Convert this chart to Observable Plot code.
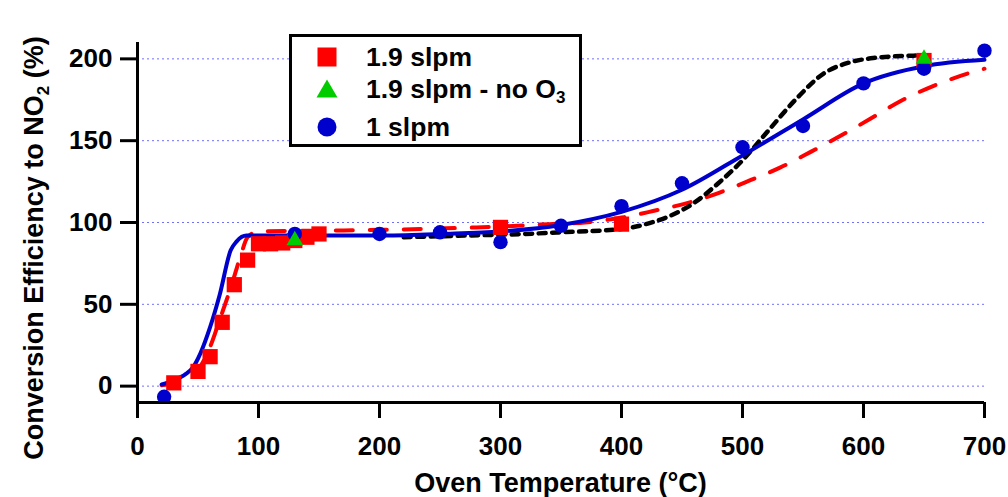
<!DOCTYPE html>
<html><head><meta charset="utf-8">
<script src="https://cdn.jsdelivr.net/npm/d3@7"></script>
<script src="https://cdn.jsdelivr.net/npm/@observablehq/plot@0.6"></script>
<style>
body{margin:0;background:#fff;}
#wrap{position:relative;width:1008px;height:497px;font-family:"Liberation Sans",Arial,sans-serif;}
#legend{position:absolute;left:289px;top:34px;width:293px;height:113px;border:3px solid #000;box-sizing:border-box;background:#fff;}
.row{position:absolute;left:0;height:30px;width:285px;}
.row svg{position:absolute;left:23px;top:3px;}
.row span{position:absolute;left:74px;top:0;line-height:30px;font-weight:bold;font-size:26.5px;color:#000;white-space:nowrap;}
.row sub{font-size:17px;vertical-align:-5px;line-height:0;}
</style>
</head><body>
<div id="wrap"></div>
<script>
// Series names
const seriesNames = ["1.9 slpm", "1.9 slpm - no O3", "1 slpm"];

// Measured points: 1.9 slpm (red squares)
const redX = [30, 50, 60, 70, 80, 91, 100, 110, 120, 130, 140, 150, 300, 400, 650];
const redY = [2, 9, 18, 39, 62, 77, 87, 87, 87.5, 89, 91, 93, 97, 99, 199];

// Measured points: 1.9 slpm - no O3 (green triangles)
const greenX = [130, 650];
const greenY = [89, 200];

// Measured points: 1 slpm (blue circles)
const blueX = [22, 130, 200, 250, 300, 350, 400, 450, 500, 550, 600, 650, 700];
const blueY = [-6.5, 93, 93, 94, 88, 98, 110, 124, 146, 159, 185, 194, 205];

// Fit curve: 1 slpm (solid blue)
const blueFitX = [20, 30, 40, 46, 52, 60, 68, 77, 82, 90, 130, 200, 250, 300, 350, 400, 450, 500, 550, 600, 650, 700];
const blueFitY = [1, 3.5, 7.5, 11.6, 20, 36, 56, 83, 88.5, 92, 92, 92, 93, 94.5, 98.5, 106.5, 120, 141, 163, 185, 195.5, 199.4];

// Fit curve: 1.9 slpm (dashed red)
const redFitX = [20, 30, 40, 50, 60, 68.6, 77, 85, 91, 100, 150, 200, 280, 314, 340, 370, 400, 426, 455, 480, 507, 531, 556, 581, 606, 630, 658, 686, 700];
const redFitY = [0.5, 2, 5, 10, 24, 42, 60, 79, 91, 94.5, 95, 95.5, 97, 98, 99, 100, 103, 107, 112, 118, 126, 133.5, 143, 153, 163.5, 174, 183.5, 191, 194];

// Fit curve: black dotted
const blackFitX = [220, 270, 320, 350, 400, 420, 440, 460, 480, 500, 520, 545, 567, 587, 608, 643];
const blackFitY = [91, 92, 93, 94, 96, 99, 104, 112, 124, 138, 155, 176, 191, 197.5, 200.5, 202];

// Axis ticks and titles
const xTicks = [0, 100, 200, 300, 400, 500, 600, 700];
const yTicks = [0, 50, 100, 150, 200];
const xTitle = "Oven Temperature (°C)";
const yTitleParts = ["Conversion Efficiency to NO", "2", " (%)"];

const toRows = (xs, ys) => xs.map((x, i) => ({x, y: ys[i]}));

const FONT = "'Liberation Sans', Arial, sans-serif";

const chart = Plot.plot({
  width: 1008,
  height: 497,
  marginLeft: 137,
  marginRight: 24,
  marginTop: 42,
  marginBottom: 95,
  x: {domain: [0, 700]},
  y: {domain: [-10, 210]},
  style: {fontFamily: FONT, fontSize: "26px", fontWeight: "bold", color: "#000", background: "#fff"},
  marks: [
    Plot.ruleY(yTicks, {stroke: "#7070ff", strokeWidth: 1, strokeDasharray: "2,3"}),
    Plot.line(toRows(redFitX, redFitY), {x: "x", y: "y", stroke: "#ff0000", strokeWidth: 4, strokeDasharray: "17,17", curve: "monotone-x"}),
    Plot.line(toRows(blackFitX, blackFitY), {x: "x", y: "y", stroke: "#000", strokeWidth: 4.5, strokeDasharray: "7,6.5", curve: "monotone-x"}),
    Plot.line(toRows(blueFitX, blueFitY), {x: "x", y: "y", stroke: "#0000cc", strokeWidth: 4, curve: "monotone-x"}),
    Plot.dot(toRows(redX, redY), {x: "x", y: "y", symbol: "square", r: 8.6, fill: "#ff0000", stroke: "none"}),
    Plot.dot(toRows(blueX, blueY), {x: "x", y: "y", r: 7.2, fill: "#0000cc", stroke: "none"}),
    Plot.dot(toRows(greenX, greenY), {x: "x", y: "y", symbol: "triangle", r: 6.2, fill: "#00cc00", stroke: "none"}),
    Plot.ruleX([0], {stroke: "#000", strokeWidth: 3}),
    Plot.ruleY([-10], {stroke: "#000", strokeWidth: 3}),
    Plot.axisX({ticks: xTicks, tickSize: 16, tickPadding: 18, strokeWidth: 3, fontSize: 26, fontWeight: "bold", label: null}),
    Plot.axisY({ticks: yTicks, tickSize: 17, tickPadding: 8, strokeWidth: 3, fontSize: 26, fontWeight: "bold", label: null})
  ]
});

const svg = d3.select(chart);
svg.append("text")
  .attr("x", 560.5).attr("y", 492)
  .attr("text-anchor", "middle")
  .attr("font-size", 27).attr("font-weight", "bold").attr("font-family", FONT)
  .attr("fill", "#000")
  .text(xTitle);

const yt = svg.append("text")
  .attr("transform", "translate(43,248) rotate(-90)")
  .attr("text-anchor", "middle")
  .attr("font-size", 27).attr("font-weight", "bold").attr("font-family", FONT)
  .attr("fill", "#000");
yt.append("tspan").text(yTitleParts[0]);
yt.append("tspan").attr("font-size", 17).attr("dy", 6).text(yTitleParts[1]);
yt.append("tspan").attr("dy", -6).text(yTitleParts[2]);

const wrap = document.getElementById("wrap");
wrap.appendChild(chart);

// Legend (HTML overlay)
const legend = document.createElement("div");
legend.id = "legend";
const symbols = [
  '<svg width="24" height="24"><rect x="2.5" y="2.5" width="19" height="19" fill="#ff0000"/></svg>',
  '<svg width="24" height="24"><polygon points="12,2.5 22.5,20.5 1.5,20.5" fill="#00cc00"/></svg>',
  '<svg width="24" height="24"><circle cx="12" cy="12" r="9.5" fill="#0000cc"/></svg>'
];
const labels = ["1.9 slpm", "1.9 slpm - no O<sub>3</sub>", "1 slpm"];
const tops = [5, 37, 75];
labels.forEach((lab, i) => {
  const row = document.createElement("div");
  row.className = "row";
  row.style.top = tops[i] + "px";
  row.setAttribute("title", seriesNames[i]);
  row.innerHTML = symbols[i] + "<span>" + lab + "</span>";
  legend.appendChild(row);
});
wrap.appendChild(legend);
</script>
</body></html>
